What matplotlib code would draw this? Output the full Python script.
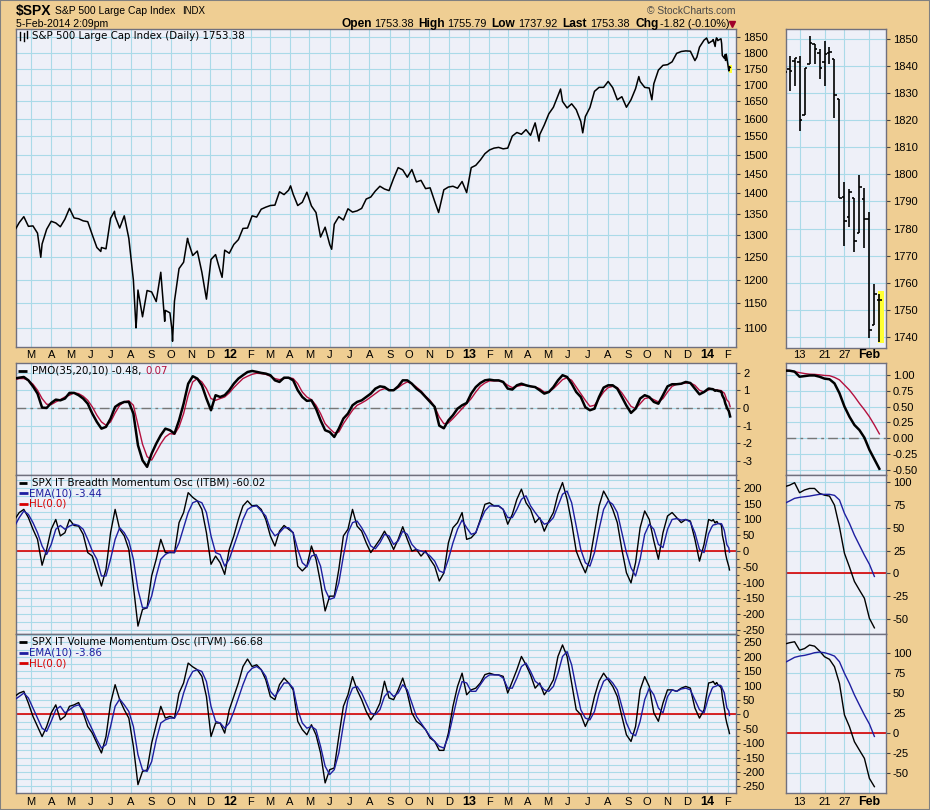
import numpy as np
import pandas as pd
import matplotlib
matplotlib.use("Agg")
import matplotlib.pyplot as plt
import matplotlib.dates as mdates
import matplotlib.transforms as mtrans
from matplotlib.lines import Line2D
from matplotlib.patches import Rectangle
from matplotlib.ticker import FixedLocator, FuncFormatter, NullLocator

plt.rcParams['axes.unicode_minus'] = False
plt.rcParams['font.family'] = ['Liberation Sans', 'DejaVu Sans']

# ------------------------------------------------------------------ data
week_start = '2011-02-04'          # weekly (Friday) readings, 153 weeks
n_weeks = 153
daily_dates = ['2014-01-08', '2014-01-09', '2014-01-10', '2014-01-13', '2014-01-14',
               '2014-01-15', '2014-01-16', '2014-01-17', '2014-01-21', '2014-01-22',
               '2014-01-23', '2014-01-24', '2014-01-27', '2014-01-28', '2014-01-29',
               '2014-01-30', '2014-01-31', '2014-02-03', '2014-02-04', '2014-02-05']

price_weekly = [
    1310, 1329, 1343, 1320, 1321, 1304, 1279, 1313, 1332, 1328, 1319, 1337, 1363,
    1340, 1338, 1333, 1331, 1300, 1271, 1271, 1268, 1339, 1344, 1316, 1345, 1292,
    1199, 1178, 1123, 1177, 1174, 1154, 1216, 1136, 1131, 1155, 1224, 1238, 1285,
    1253, 1263, 1216, 1159, 1244, 1255, 1219, 1265, 1258,
    1278, 1289, 1315, 1316, 1345, 1342, 1361, 1366, 1370, 1371, 1404, 1397, 1408,
    1398, 1370, 1378, 1403, 1369, 1353, 1295, 1318, 1278, 1325, 1343, 1335, 1362,
    1354, 1357, 1363, 1386, 1391, 1406, 1418, 1411, 1407, 1438, 1466, 1460, 1441,
    1461, 1429, 1433, 1412, 1414, 1380, 1360, 1409, 1416, 1418, 1413, 1430, 1402,
    1466, 1472, 1486, 1503, 1513, 1518, 1520, 1516, 1518, 1551, 1561, 1556, 1569,
    1553, 1588, 1555, 1582, 1614, 1633, 1667, 1650, 1631, 1643, 1626, 1592, 1606,
    1632, 1680, 1692, 1692, 1710, 1691, 1655, 1664, 1633, 1655, 1688, 1710, 1692,
    1690, 1703, 1745, 1760, 1762, 1771, 1798, 1804, 1806, 1805, 1775, 1818, 1841,
    1831]
price_extra_dates = ['2011-03-16', '2011-06-16', '2011-07-07', '2011-08-09', '2011-08-10',
                     '2011-09-22', '2011-10-03', '2011-10-04', '2011-10-27', '2011-12-19',
                     '2012-04-02', '2012-06-04', '2012-11-15', '2013-04-18', '2013-05-21',
                     '2013-06-24', '2013-09-18', '2013-10-08', '2013-12-16', '2013-12-31']
price_extra_vals = [1249, 1262, 1356, 1101, 1120, 1114, 1099, 1075, 1292, 1205,
                    1419, 1267, 1353, 1537, 1687, 1560, 1725, 1655, 1786, 1848]

ohlc_open = [1838.0, 1839.0, 1841.9, 1841.5, 1822.0, 1840.8, 1848.3, 1844.8, 1841.5, 1844.8,
             1842.7, 1827.8, 1791.8, 1784.4, 1791.4, 1778.2, 1791.0, 1783.5, 1744.3, 1753.4]
ohlc_high = [1840.0, 1843.8, 1843.2, 1843.8, 1839.5, 1851.2, 1848.3, 1846.3, 1849.4, 1847.0,
             1842.7, 1827.8, 1797.1, 1794.6, 1791.4, 1799.8, 1795.1, 1786.0, 1759.5, 1755.8]
ohlc_low = [1831.5, 1831.0, 1832.9, 1816.2, 1822.0, 1840.8, 1840.8, 1835.3, 1832.9, 1840.8,
            1820.7, 1791.2, 1773.7, 1780.5, 1771.2, 1778.2, 1772.9, 1739.6, 1744.3, 1737.9]
ohlc_close = [1837.8, 1838.4, 1843.0, 1820.2, 1839.5, 1848.5, 1846.3, 1839.5, 1844.6, 1845.2,
              1829.3, 1791.2, 1782.6, 1793.4, 1775.4, 1795.5, 1783.5, 1742.5, 1755.8, 1753.4]

pmo_weekly = [
    1.66, 1.71, 1.75, 1.56, 1.22, 0.81, 0.02, 0.00, 0.28, 0.47, 0.43, 0.53, 0.85,
    0.85, 0.72, 0.53, 0.24, -0.32, -0.79, -1.17, -1.07, -0.60, 0.06, 0.24, 0.34, 0.34,
    -0.32, -2.11, -2.96, -3.33, -2.58, -2.02, -1.54, -1.17, -1.26, -1.45, -0.70, 0.24, 1.37,
    1.79, 1.66, 1.28, 0.53, -0.13, 0.72, 0.62, 0.72, 1.00,
    1.37, 1.66, 1.85, 2.03, 2.09, 2.04, 1.98, 1.94, 1.85, 1.56, 1.47, 1.71, 1.71,
    1.56, 1.00, 0.62, 0.40, 0.43, -0.04, -0.70, -1.26, -1.36, -1.64, -1.17, -0.60, -0.32,
    0.15, 0.34, 0.43, 0.62, 0.81, 1.09, 1.22, 1.18, 1.00, 1.00, 1.22, 1.56, 1.56,
    1.37, 1.09, 0.90, 0.62, 0.34, 0.06, -1.00, -1.15, -0.70, -0.41, -0.04, 0.15, 0.28,
    0.81, 1.18, 1.41, 1.56, 1.60, 1.56, 1.56, 1.47, 1.09, 1.04, 1.28, 1.37, 1.28,
    1.22, 1.18, 1.00, 0.81, 0.90, 1.18, 1.56, 1.85, 1.75, 1.37, 0.90, 0.62, 0.04,
    -0.13, -0.04, 0.62, 1.15, 1.28, 1.28, 1.09, 0.62, 0.13, -0.28, -0.04, 0.53, 0.72,
    0.62, 0.34, 0.24, 0.72, 1.22, 1.34, 1.34, 1.37, 1.47, 1.41, 1.09, 0.77, 0.90,
    1.10]
pmo_signal_weekly = [
    1.60, 1.66, 1.66, 1.56, 1.34, 1.00, 0.53, 0.21, 0.19, 0.34, 0.47, 0.62, 0.72,
    0.85, 0.81, 0.66, 0.43, 0.06, -0.41, -0.79, -0.98, -0.79, -0.28, 0.15, 0.34, 0.40,
    0.15, -0.95, -2.05, -2.75, -2.95, -2.49, -2.02, -1.64, -1.45, -1.49, -1.07, -0.32, 0.72,
    1.47, 1.66, 1.47, 1.09, 0.53, 0.43, 0.53, 0.62, 0.85,
    1.15, 1.41, 1.66, 1.79, 1.90, 1.96, 1.94, 1.90, 1.79, 1.66, 1.60, 1.66, 1.71,
    1.66, 1.37, 0.90, 0.62, 0.47, 0.15, -0.32, -0.89, -1.17, -1.41, -1.36, -0.89, -0.51,
    -0.13, 0.15, 0.28, 0.43, 0.62, 0.81, 1.00, 1.09, 1.04, 1.00, 1.15, 1.34, 1.47,
    1.37, 1.18, 0.96, 0.66, 0.43, 0.06, -0.51, -0.89, -0.85, -0.60, -0.32, -0.04, 0.24,
    0.53, 0.90, 1.22, 1.41, 1.53, 1.53, 1.53, 1.47, 1.28, 1.15, 1.22, 1.28, 1.28,
    1.22, 1.18, 1.09, 0.90, 0.90, 1.09, 1.34, 1.60, 1.71, 1.56, 1.18, 0.81, 0.43,
    0.09, 0.15, 0.53, 0.90, 1.15, 1.22, 1.15, 0.85, 0.47, 0.09, -0.04, 0.24, 0.53,
    0.58, 0.47, 0.34, 0.53, 0.90, 1.22, 1.34, 1.37, 1.41, 1.41, 1.28, 1.00, 0.90,
    1.02]
pmo_daily = [1.065, 1.065, 1.05, 0.97, 0.98, 0.99, 0.99, 0.97, 0.94, 0.93,
             0.865, 0.71, 0.50, 0.34, 0.21, 0.13, 0.01, -0.18, -0.33, -0.48]
pmo_signal_daily = [1.076, 1.065, 1.05, 1.034, 1.02, 1.01, 1.007, 1.0, 0.99, 0.986,
                    0.96, 0.92, 0.84, 0.76, 0.66, 0.55, 0.45, 0.34, 0.21, 0.07]

itbm_weekly = [
    100, 122, 132, 106, 69, 37, -45, 5, 69, 100, 48, 58, 100,
    81, 79, 53, -5, -16, -63, -111, -58, 58, 132, 69, 48, 5,
    -111, -238, -185, -180, -79, -26, 37, -5, -5, -5, 90, 122, 185,
    170, 159, 132, 58, -42, -16, -37, -74, 5,
    48, 100, 143, 159, 143, 145, 132, 100, 48, 16, 63, 81, 69,
    58, -48, -63, -48, 16, -26, -101, -190, -143, -143, -58, 48, 69,
    132, 79, 63, 26, -5, 16, 37, 63, 37, 5, 37, 77, 37,
    0, 5, -16, 0, -26, -48, -95, -70, 26, 74, 90, 122, 37,
    42, 58, 100, 148, 153, 143, 143, 132, 85, 116, 164, 196, 153,
    132, 90, 106, 63, 95, 122, 180, 217, 164, 90, 0, -37, -69,
    -26, 58, 143, 190, 164, 132, 90, 5, -69, -101, -37, 74, 127,
    100, 32, -26, 58, 111, 122, 106, 90, 100, 95, 37, -32, 21,
    100]
itbm_ema_weekly = [
    79, 106, 127, 116, 90, 58, 16, -11, 21, 69, 81, 69, 79,
    85, 81, 69, 37, 0, -26, -79, -79, -26, 37, 74, 58, 32,
    -26, -122, -180, -180, -143, -79, -26, -11, -3, -5, 26, 74, 122,
    153, 159, 153, 122, 48, -5, -11, -48, -26,
    16, 58, 100, 132, 141, 143, 127, 111, 69, 48, 58, 74, 74,
    58, 5, -37, -50, -16, -11, -48, -122, -153, -148, -101, -16, 58,
    90, 95, 74, 48, 16, 7, 26, 53, 48, 21, 32, 63, 53,
    21, 5, 0, -5, -16, -32, -63, -69, -26, 26, 69, 98, 74,
    53, 58, 95, 127, 143, 143, 143, 132, 106, 106, 132, 164, 175,
    143, 122, 103, 85, 90, 106, 143, 180, 190, 153, 79, 5, -37,
    -48, -5, 69, 132, 159, 148, 122, 58, -5, -53, -79, -26, 53,
    85, 69, 21, 11, 69, 100, 103, 98, 100, 92, 58, 5, -5,
    55]
itbm_daily = [95.3, 97, 99.7, 88.7, 91.7, 93.4, 93.4, 88, 86, 85,
              75, 51, 22, 7, -9, -18.4, -27.5, -49.5, -60.02]
itbm_ema_daily = [77, 79.6, 82.5, 83.6, 84.3, 85, 86, 86.9, 86.9, 86.9,
                  85.8, 80.7, 66, 55, 42, 31, 20, 10, -3.44]

itvm_weekly = [
    62, 74, 80, 39, -7, -42, -77, -42, 5, 33, -19, -7, 28,
    33, 41, 5, -42, -65, -100, -134, -77, 39, 103, 51, 16, -13,
    -111, -244, -198, -193, -100, -36, 28, -13, -7, -13, 74, 109, 178,
    165, 155, 132, 62, -77, -30, -30, -65, 16,
    62, 109, 166, 192, 166, 172, 155, 120, 62, 51, 103, 126, 109,
    85, -24, -53, -71, -36, -71, -134, -238, -192, -186, -77, 28, 68,
    131, 85, 51, 10, -19, 5, 39, 115, 57, 51, 85, 126, 74,
    5, -24, -36, -53, -82, -94, -125, -125, -65, 28, 97, 143, 68,
    85, 91, 109, 138, 143, 138, 137, 132, 74, 115, 155, 201, 172,
    137, 91, 109, 68, 91, 120, 201, 241, 201, 109, 16, -1, -42,
    -7, 62, 115, 143, 120, 97, 62, -7, -71, -94, -42, 85, 131,
    97, 5, -24, 39, 85, 85, 80, 91, 97, 91, 22, -13, 16,
    109]
itvm_ema_weekly = [
    51, 62, 74, 57, 22, -13, -48, -59, -24, 16, 28, 5, 16,
    28, 33, 16, -19, -53, -88, -117, -105, -42, 28, 53, 33, 10,
    -42, -140, -193, -198, -164, -88, -30, -19, -13, -13, 16, 74, 120,
    149, 155, 149, 114, 28, -24, -30, -48, -30,
    10, 57, 103, 143, 160, 166, 155, 132, 80, 62, 85, 109, 109,
    91, 16, -30, -48, -42, -53, -111, -180, -209, -192, -134, -36, 51,
    91, 97, 74, 39, 5, -1, 16, 62, 80, 62, 74, 103, 85,
    39, -7, -30, -53, -77, -94, -111, -117, -77, -7, 62, 114, 109,
    80, 80, 103, 126, 137, 137, 137, 126, 91, 91, 126, 166, 178,
    149, 115, 103, 85, 80, 97, 143, 201, 218, 172, 91, 16, -13,
    -19, 10, 74, 115, 126, 109, 85, 28, -30, -65, -74, -24, 51,
    91, 68, 22, 5, 62, 85, 80, 88, 91, 85, 51, 16, 5,
    60]
itvm_daily = [111.6, 113.3, 114.5, 104, 106, 110.4, 109, 103, 95.8, 92.5,
              83.3, 62.4, 23, 8.3, -10.5, -21, -31.3, -56.3, -66.68]
itvm_ema_daily = [88.3, 91.6, 95, 96.6, 97.5, 99, 100.8, 101.6, 100.8, 99,
                  96.6, 89.5, 75, 62.4, 48, 35.4, 23, 11.7, -3.86]

month_letters = ['J', 'F', 'M', 'A', 'M', 'J', 'J', 'A', 'S', 'O', 'N', 'D']
small_labels = {3: '13', 8: '21', 12: '27', 17: 'Feb'}

# ------------------------------------------------------------------ style
W, H = 930, 810
BG = '#EFCE93'
PANEL = '#EEF0F8'
GRID = '#AADAE8'
EDGE = '#70707E'
SIGRED = '#B4103E'
EMABLUE = '#1E1EA0'
HLRED = '#D80000'
LEGFONT = dict(family=['DejaVu Sans'], size=7.4)

fig = plt.figure(figsize=(W / 100, H / 100), dpi=100)
fig.patch.set_facecolor(BG)


def add_ax(x0, y0, x1, y1):
    ax = fig.add_axes([x0 / W, 1 - y1 / H, (x1 - x0) / W, (y1 - y0) / H])
    ax.set_facecolor(PANEL)
    for s in ax.spines.values():
        s.set_color(EDGE)
        s.set_linewidth(1.0)
    ax.yaxis.tick_right()
    ax.tick_params(axis='y', which='major', direction='out', length=3, width=0.8,
                   color='#444444', labelsize=8, pad=2)
    ax.tick_params(axis='y', which='minor', direction='out', length=2, width=0.8,
                   color='#444444')
    ax.tick_params(axis='x', which='both', length=0, labelbottom=False)
    ax.set_axisbelow(True)
    return ax


def ygrid(ax, major, minor=None, fmt=lambda v: f'{v:g}'):
    ax.yaxis.set_major_locator(FixedLocator(major))
    ax.yaxis.set_major_formatter(FuncFormatter(lambda v, p: fmt(v)))
    if minor is not None:
        ax.yaxis.set_minor_locator(FixedLocator(minor))
    else:
        ax.yaxis.set_minor_locator(NullLocator())
    ax.grid(True, which='both', axis='y', color=GRID, lw=0.8)
    ax.grid(True, which='major', axis='x', color=GRID, lw=0.8)


# dates
wk = pd.date_range(week_start, periods=n_weeks, freq='W-FRI')
dd = pd.to_datetime(daily_dates)
wk_n = mdates.date2num(wk.values)
dd_n = mdates.date2num(dd.values)

x_lo = mdates.date2num(np.datetime64('2011-02-06'))
x_hi = mdates.date2num(np.datetime64('2014-02-14'))
month_starts = pd.date_range('2011-03-01', '2014-02-01', freq='MS')
ms_n = mdates.date2num(month_starts.values)

# main panels
ax_p = add_ax(16, 29, 736, 347)
ax_m = add_ax(16, 363, 736, 475)
ax_b = add_ax(16, 475, 736, 634)
ax_v = add_ax(16, 634, 736, 793)
# small panels
sx_p = add_ax(786, 29, 886, 348)
sx_m = add_ax(786, 363, 886, 475)
sx_b = add_ax(786, 475, 886, 634)
sx_v = add_ax(786, 634, 886, 793)

for ax in (ax_p, ax_m, ax_b, ax_v):
    ax.set_xlim(x_lo, x_hi)
    ax.set_xticks(ms_n)
for ax in (sx_p, sx_m, sx_b, sx_v):
    ax.set_xlim(0.28, 20.33)
    ax.set_xticks(list(small_labels.keys()))

# ---- price panel
pr = pd.concat([
    pd.Series(price_weekly, index=wk),
    pd.Series(price_extra_vals, index=pd.to_datetime(price_extra_dates)),
    pd.Series(ohlc_close, index=dd)]).sort_index()
ax_p.set_yscale('log')
ax_p.set_ylim(1064, 1878)
ygrid(ax_p, list(range(1100, 1851, 50)), fmt=lambda v: f'{v:.0f}')
ax_p.yaxis.set_minor_locator(NullLocator())
ax_p.add_patch(Rectangle((mdates.date2num(np.datetime64('2014-02-02T12:00')), 1735), 6, 26,
                         facecolor='#FFFF33', edgecolor='none', zorder=2))
ax_p.plot(mdates.date2num(pr.index.values), pr.values, color='black', lw=1.1, zorder=3)

# ---- PMO panel
ax_m.set_ylim(-3.79, 2.54)
ygrid(ax_m, [-3, -2, -1, 0, 1, 2], fmt=lambda v: f'{v:.0f}')
ax_m.axhline(0, color='#777777', lw=1.0, ls=(0, (7, 3, 2, 3)), zorder=2)
ax_m.plot(np.r_[wk_n, dd_n], pmo_signal_weekly + pmo_signal_daily, color=SIGRED, lw=1.0, zorder=3)
ax_m.plot(np.r_[wk_n, dd_n], pmo_weekly + pmo_daily, color='black', lw=1.8, zorder=4)

# ---- ITBM panel
ax_b.set_ylim(-263, 241)
ygrid(ax_b, list(range(-250, 201, 50)), list(range(-250, 241, 25)), fmt=lambda v: f'{v:.0f}')
ax_b.axhline(0, color=HLRED, lw=1.2, zorder=2)
ax_b.plot(np.r_[wk_n, dd_n[:19]], itbm_weekly + itbm_daily, color='black', lw=1.0, zorder=3)
ax_b.plot(np.r_[wk_n, dd_n[:19]], itbm_ema_weekly + itbm_ema_daily, color=EMABLUE, lw=1.0, zorder=4)

# ---- ITVM panel
ax_v.set_ylim(-273, 279)
ygrid(ax_v, list(range(-250, 251, 50)), list(range(-275, 279, 25)), fmt=lambda v: f'{v:.0f}')
ax_v.axhline(0, color=HLRED, lw=1.2, zorder=2)
ax_v.plot(np.r_[wk_n, dd_n[:19]], itvm_weekly + itvm_daily, color='black', lw=1.0, zorder=3)
ax_v.plot(np.r_[wk_n, dd_n[:19]], itvm_ema_weekly + itvm_ema_daily, color=EMABLUE, lw=1.0, zorder=4)

# ---- small panels
idx = np.arange(len(daily_dates))
sx_p.set_ylim(1735.8, 1853.8)
ygrid(sx_p, list(range(1740, 1851, 10)), fmt=lambda v: f'{v:.0f}')
sx_p.add_patch(Rectangle((18.67, 1737.5), 1.33, 19.5, facecolor='#FFFF33',
                         edgecolor='none', zorder=2))
for i in idx:
    sx_p.vlines(i, ohlc_low[i], ohlc_high[i], color='black', lw=1.2, zorder=3)
    sx_p.hlines(ohlc_open[i], i - 0.45, i, color='black', lw=1.2, zorder=3)
    sx_p.hlines(ohlc_close[i], i, i + 0.45, color='black', lw=1.2, zorder=3)

sx_m.set_ylim(-0.578, 1.186)
ygrid(sx_m, list(np.arange(-0.5, 1.01, 0.25)), fmt=lambda v: f'{v:.2f}')
sx_m.axhline(0, color='#777777', lw=1.0, ls=(0, (7, 3, 2, 3)), zorder=2)
sx_m.plot(idx, pmo_signal_daily, color=SIGRED, lw=1.0, zorder=3)
sx_m.plot(idx, pmo_daily, color='black', lw=1.8, zorder=4)

sx_b.set_ylim(-66.8, 108.2)
ygrid(sx_b, list(range(-50, 101, 25)), list(range(-75, 110, 25)), fmt=lambda v: f'{v:.0f}')
sx_b.axhline(0, color=HLRED, lw=1.2, zorder=2)
sx_b.plot(idx[:19], itbm_daily, color='black', lw=1.0, zorder=3)
sx_b.plot(idx[:19], itbm_ema_daily, color=EMABLUE, lw=1.0, zorder=4)

sx_v.set_ylim(-74.6, 124.2)
ygrid(sx_v, list(range(-50, 101, 25)), list(range(-75, 125, 25)), fmt=lambda v: f'{v:.0f}')
sx_v.axhline(0, color=HLRED, lw=1.2, zorder=2)
sx_v.plot(idx[:19], itvm_daily, color='black', lw=1.0, zorder=3)
sx_v.plot(idx[:19], itvm_ema_daily, color=EMABLUE, lw=1.0, zorder=4)

# ---- date labels under the price panel and the last panel
def month_label_row(ax, ypix):
    tr = mtrans.blended_transform_factory(ax.transData, fig.transFigure)
    for d, xn in zip(month_starts, ms_n):
        if d.month == 1:
            s, wgt = f'{d.year % 100:02d}', 'bold'
            sz = 9
        else:
            s, wgt = month_letters[d.month - 1], 'normal'
            sz = 8
        ax.text(xn, 1 - ypix / H, s, transform=tr, ha='center', va='center',
                fontsize=sz, fontweight=wgt, color='black', clip_on=False)


def small_label_row(ax, ypix):
    tr = mtrans.blended_transform_factory(ax.transData, fig.transFigure)
    for i, s in small_labels.items():
        ax.text(i, 1 - ypix / H, s, transform=tr, ha='center', va='center',
                fontsize=9 if s == 'Feb' else 8,
                fontweight='bold' if s == 'Feb' else 'normal', clip_on=False)


month_label_row(ax_p, 355.5)
month_label_row(ax_v, 802)
small_label_row(sx_p, 355.5)
small_label_row(sx_v, 802)

# ---- header
def ftext(x, y, s, **kw):
    return fig.text(x / W, 1 - y / H, s, va='center', ha='left', **kw)


def fline(x0, x1, y, color, lw=2.0):
    fig.add_artist(Line2D([x0 / W, x1 / W], [1 - y / H, 1 - y / H], color=color, lw=lw,
                          transform=fig.transFigure, solid_capstyle='butt'))


ftext(16, 11, '$SPX', fontsize=10, fontweight='bold')
ftext(54.5, 11.5, 'S&P 500 Large Cap Index', fontsize=7.5)
ftext(182, 11.5, 'INDX', fontsize=7.0)
ftext(16, 24, '5-Feb-2014 2:09pm', fontsize=7.6)
ftext(647, 11, '\u00a9 StockCharts.com', fontsize=7.4, color='#4A4A4A')

hdr = [(341.7, 'Open', True), (374, '1753.38', False), (418.3, 'High', True),
       (447, '1755.79', False), (491, 'Low', True), (518.3, '1737.92', False),
       (562.3, 'Last', True), (590, '1753.38', False), (635, 'Chg', True),
       (660, '-1.82 (-0.10%)', False)]
for x, s, b in hdr:
    ftext(x, 24, s, fontsize=8.6 if b else 7.8, fontweight='bold' if b else 'normal')
fig.add_artist(Line2D([731.7 / W], [1 - 24 / H], marker='v', ms=5, color='#A0002A',
                      ls='none', transform=fig.transFigure))

# ---- in-panel legends
renderer = fig.canvas.get_renderer()
# price legend with a tiny bar icon
for xi, (a, b) in zip([19.5, 23.5, 27.0], [(32, 40), (33, 41), (31, 38)]):
    fig.add_artist(Line2D([xi / W, xi / W], [1 - a / H, 1 - b / H], color='black', lw=1,
                          transform=fig.transFigure))
ftext(31.7, 36, 'S&P 500 Large Cap Index (Daily) 1753.38', color='black', **LEGFONT)

fline(18, 27, 370.7, 'black')
t = ftext(31.7, 370.7, 'PMO(35,20,10) -0.48,', color='black', **LEGFONT)
bb = t.get_window_extent(renderer=renderer)
ftext(31.7 + bb.width + 4, 370.7, '0.07', color=SIGRED, **LEGFONT)

for y0, name in [(482.7, 'SPX IT Breadth Momentum Osc (ITBM) -60.02'),
                 (641.7, 'SPX IT Volume Momentum Osc (ITVM) -66.68')]:
    fline(19, 27, y0, 'black')
    ftext(31.7, y0, name, color='black', **LEGFONT)
fline(19, 28, 493.3, EMABLUE)
ftext(28.5, 493.3, 'EMA(10) -3.44', color=EMABLUE, **LEGFONT)
fline(19, 28, 504, HLRED)
ftext(28.5, 504, 'HL(0.0)', color=HLRED, **LEGFONT)
fline(19, 28, 652.7, EMABLUE)
ftext(28.5, 652.7, 'EMA(10) -3.86', color=EMABLUE, **LEGFONT)
fline(19, 28, 663.3, HLRED)
ftext(28.5, 663.3, 'HL(0.0)', color=HLRED, **LEGFONT)

# outer frame
fig.add_artist(Rectangle((0, 0), 1, 1, transform=fig.transFigure, fill=False,
                         edgecolor='#808080', lw=1.5))

fig.savefig('out.png', dpi=100, facecolor=BG)
